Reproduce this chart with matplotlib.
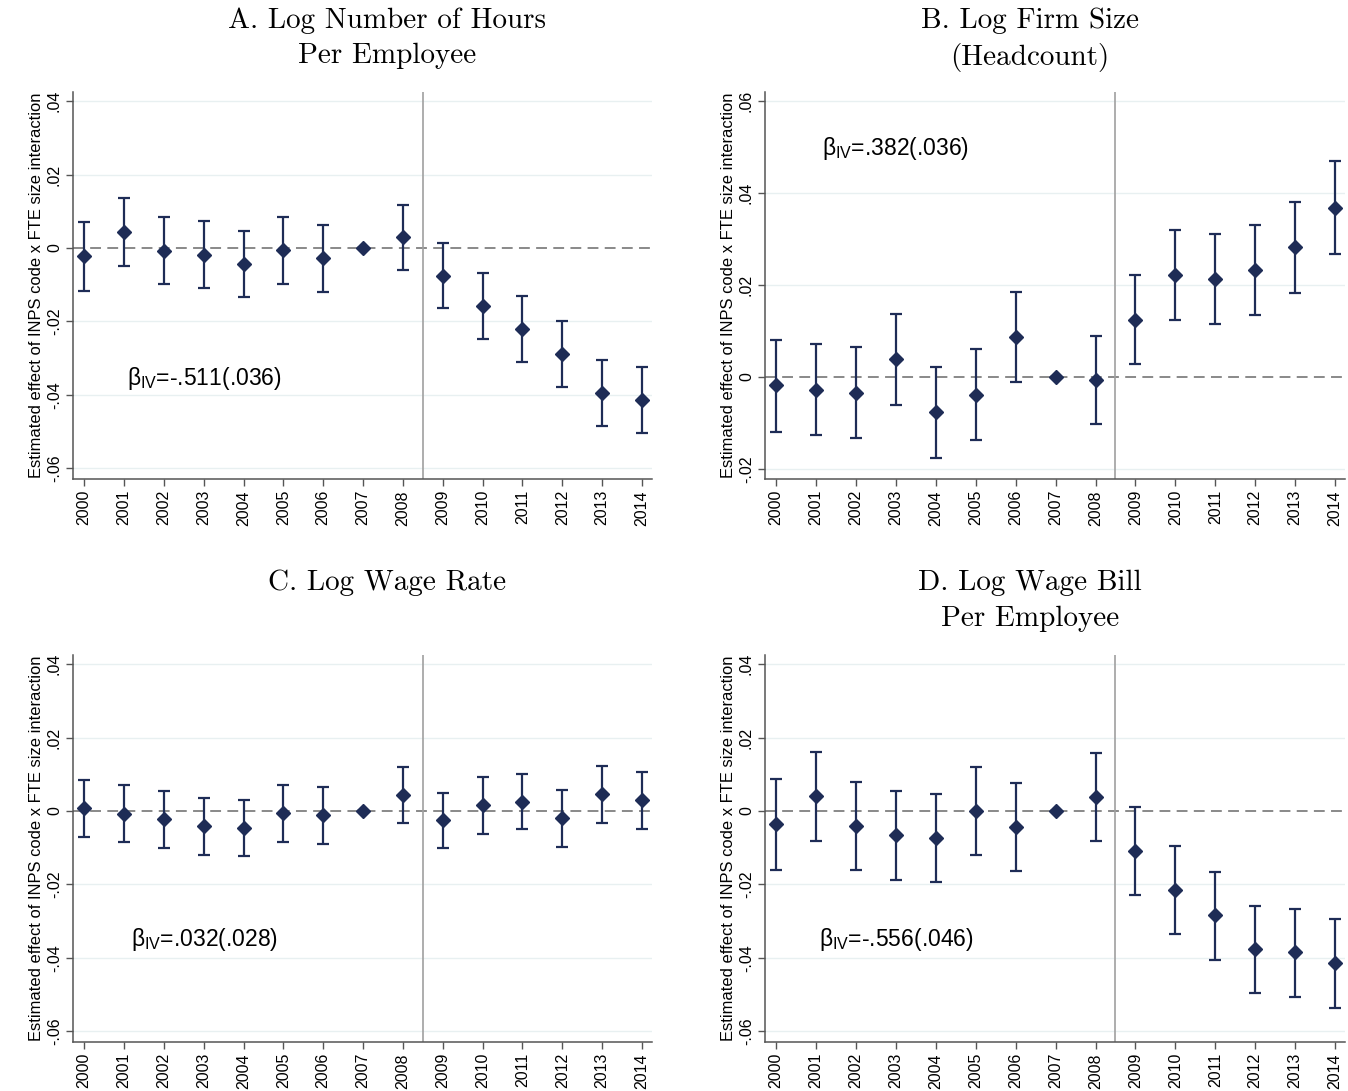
import matplotlib
matplotlib.use("Agg")
import matplotlib.pyplot as plt

plt.rcParams["font.family"] = ["Liberation Sans", "DejaVu Sans"]
plt.rcParams["mathtext.fontset"] = "custom"
plt.rcParams["mathtext.rm"] = "Liberation Sans"
plt.rcParams["mathtext.it"] = "Liberation Sans"
plt.rcParams["mathtext.bf"] = "Liberation Sans:bold"

# ------------------------------------------------------------
# data
# ------------------------------------------------------------
years = list(range(2000, 2015))

a_est = [-0.0022, 0.0044, -0.0008, -0.0019, -0.0044, -0.0005, -0.0027, 0.0, 0.0030,
         -0.0076, -0.0158, -0.0220, -0.0288, -0.0395, -0.0414]
a_lo = [-0.0117, -0.0049, -0.0098, -0.0110, -0.0133, -0.0098, -0.0120, 0.0, -0.0060,
        -0.0163, -0.0248, -0.0310, -0.0378, -0.0484, -0.0503]
a_hi = [0.0071, 0.0136, 0.0084, 0.0073, 0.0046, 0.0084, 0.0063, 0.0, 0.0117,
        0.0014, -0.0068, -0.0130, -0.0199, -0.0305, -0.0324]

b_est = [-0.0017, -0.0028, -0.0035, 0.0039, -0.0076, -0.0039, 0.0087, 0.0, -0.0007,
         0.0124, 0.0222, 0.0213, 0.0233, 0.0282, 0.0368]
b_lo = [-0.0120, -0.0126, -0.0133, -0.0061, -0.0176, -0.0137, -0.0011, 0.0, -0.0102,
        0.0028, 0.0124, 0.0115, 0.0134, 0.0182, 0.0267]
b_hi = [0.0080, 0.0072, 0.0065, 0.0137, 0.0022, 0.0061, 0.0185, 0.0, 0.0090,
        0.0222, 0.0320, 0.0311, 0.0330, 0.0380, 0.0470]

c_est = [0.0008, -0.0008, -0.0022, -0.0041, -0.0046, -0.0005, -0.0011, 0.0, 0.0044,
         -0.0024, 0.0016, 0.0024, -0.0019, 0.0046, 0.0030]
c_lo = [-0.0071, -0.0084, -0.0100, -0.0120, -0.0122, -0.0084, -0.0090, 0.0, -0.0033,
        -0.0100, -0.0063, -0.0049, -0.0098, -0.0033, -0.0049]
c_hi = [0.0084, 0.0071, 0.0054, 0.0035, 0.0030, 0.0071, 0.0065, 0.0, 0.0120,
        0.0049, 0.0093, 0.0101, 0.0057, 0.0122, 0.0106]

d_est = [-0.0035, 0.0041, -0.0041, -0.0065, -0.0073, 0.0000, -0.0044, 0.0, 0.0038,
         -0.0109, -0.0215, -0.0283, -0.0376, -0.0384, -0.0414]
d_lo = [-0.0160, -0.0082, -0.0160, -0.0188, -0.0193, -0.0120, -0.0163, 0.0, -0.0082,
        -0.0229, -0.0335, -0.0405, -0.0495, -0.0506, -0.0536]
d_hi = [0.0087, 0.0160, 0.0079, 0.0054, 0.0046, 0.0120, 0.0076, 0.0, 0.0158,
        0.0011, -0.0095, -0.0166, -0.0259, -0.0267, -0.0294]

titles = ["A. Log Number of Hours\nPer Employee",
          "B. Log Firm Size\n(Headcount)",
          "C. Log Wage Rate",
          "D. Log Wage Bill\nPer Employee"]
notes = ["=-.511(.036)", "=.382(.036)", "=.032(.028)", "=-.556(.046)"]
yticks_ac = [-0.06, -0.04, -0.02, 0, 0.02, 0.04]
yticks_b = [-0.02, 0, 0.02, 0.04, 0.06]

ylabel = "Estimated effect of INPS code x FTE size interaction"
NAVY = "#1e2c56"
GRID = "#e8f0f1"


def fmt(v):
    if v == 0:
        return "0"
    s = f"{v:.2f}"
    return s.replace("0.", ".")


# ------------------------------------------------------------
# figure
# ------------------------------------------------------------
W, H = 1348, 1091
fig = plt.figure(figsize=(W / 100, H / 100), dpi=100)
fig.patch.set_facecolor("white")

# axes boxes in pixels: left, top, right, bottom
boxes = [(73, 92, 652, 479), (765, 92, 1345, 479),
         (73, 655, 652, 1042), (765, 655, 1345, 1042)]
ylims = [(-0.06286, 0.04245), (-0.02217, 0.06196),
         (-0.06286, 0.04245), (-0.06286, 0.04245)]
yticks = [yticks_ac, yticks_b, yticks_ac, yticks_ac]
series = [(a_est, a_lo, a_hi), (b_est, b_lo, b_hi),
          (c_est, c_lo, c_hi), (d_est, d_lo, d_hi)]
note_pos = [(2001.07, -0.0354), (2001.16, 0.0496),
            (2001.18, -0.0351), (2001.08, -0.0351)]
# title anchor (centre x, top y) in pixels
title_pos = [(387, 7), (1030, 7), (387, 570), (1030, 570)]

for i in range(4):
    l, t, r, b = boxes[i]
    ax = fig.add_axes([l / W, 1 - b / H, (r - l) / W, (b - t) / H])
    est, lo, hi = series[i]

    ax.set_xlim(1999.72, 2014.25)
    ax.set_ylim(*ylims[i])

    for yv in yticks[i]:
        if yv != 0:
            ax.axhline(yv, color=GRID, lw=1.0, zorder=0)
    ax.axhline(0, color="#808080", lw=1.3, ls=(0, (6, 3.5)), zorder=1)
    ax.axvline(2008.5, color="#a0a0a0", lw=1.2, zorder=1)

    err_lo = [e - x for e, x in zip(est, lo)]
    err_hi = [x - e for e, x in zip(est, hi)]
    ax.errorbar(years, est, yerr=[err_lo, err_hi], fmt="none",
                ecolor=NAVY, elinewidth=1.6, capsize=4.2, capthick=1.6, zorder=2)
    ax.plot(years, est, ls="none", marker="D", ms=7, color=NAVY, zorder=3)

    ax.set_xticks(years)
    ax.set_xticklabels([str(y) for y in years], rotation=90, fontsize=11.5)
    ax.set_yticks(yticks[i])
    ax.set_yticklabels([fmt(v) for v in yticks[i]], rotation=90, va="center",
                       fontsize=11.5)
    ax.tick_params(axis="both", length=5, width=1, color="#555555", pad=3)
    ax.set_ylabel(ylabel, fontsize=11.9, labelpad=2)

    for s in ["top", "right"]:
        ax.spines[s].set_visible(False)
    for s in ["left", "bottom"]:
        ax.spines[s].set_color("#555555")
        ax.spines[s].set_linewidth(1.1)

    nx, ny = note_pos[i]
    ax.text(nx, ny, r"$\beta_{\mathrm{IV}}$" + notes[i], fontsize=16.5,
            ha="left", va="center", color="black")

    tx, ty = title_pos[i]
    fig.text(tx / W, 1 - ty / H, titles[i],
             family="cmr10", fontsize=21, ha="center", va="top",
             linespacing=1.45)

plt.savefig("out.png", dpi=100)
